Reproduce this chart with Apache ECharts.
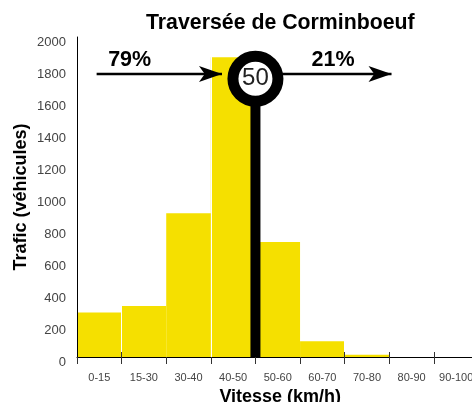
<!DOCTYPE html>
<html><head><meta charset="utf-8">
<style>html,body{margin:0;padding:0;background:#fff}#c{width:472px;height:402px}</style>
<script src="https://cdn.jsdelivr.net/npm/echarts@6/dist/echarts.min.js"></script>
</head><body><div id="c"></div>
<script>
const categories = ['0-15','15-30','30-40','40-50','50-60','60-70','70-80','80-90','90-100'];
const traffic = [310,350,930,1905,750,130,45,0,0];
const yTicks = {min:0,max:2000,interval:200};
const limit = {position:4,label:'50',height:1770};
const shares = [{text:'79%',x:1.18,y:1890},{text:'21%',x:5.74,y:1890}];
const arrowShafts = [[[0.44,1800],[3.25,1800]],[[4.6,1800],[7.05,1800]]];
const arrowHeads = [[3.25,1800],[7.05,1800]];
const axisFloor = 31.25, axisTop = 2031.25;
const aboveTicks = [1,6,7,8];
const gaps = [1,3,6];
const font = '"Liberation Sans", Helvetica, Arial, sans-serif';
const labelColor = '#444';

const chart = echarts.init(document.getElementById('c'));
const shaftSeries = arrowShafts.map(s => ({
  type:'line', xAxisIndex:3, yAxisIndex:0, data:s, symbol:'none', z:6, clip:false,
  lineStyle:{color:'#000',width:2.5}, silent:true
}));
chart.setOption({
  animation:false,
  backgroundColor:'#fff',
  title:{text:'Traversée de Corminboeuf',left:141,top:8,
    textStyle:{fontFamily:font,fontWeight:'bold',fontSize:21.3,color:'#000'}},
  grid:[
    {left:77,width:401.5,top:37,height:320,outerBoundsMode:'none'},
    {left:77,width:401.5,top:42,height:320,outerBoundsMode:'none'}
  ],
  xAxis:[
    {type:'category',gridIndex:0,data:categories,z:5,position:'bottom',
      name:'Vitesse (km/h)',nameLocation:'middle',nameGap:31,
      nameTextStyle:{fontFamily:font,fontWeight:'bold',fontSize:18,color:'#000',padding:[0,0,0,5]},
      axisLine:{lineStyle:{color:'#000',width:1}},
      axisTick:{show:true,length:7,lineStyle:{color:'#333'}},
      axisLabel:{interval:0,margin:15,fontFamily:font,fontSize:11,color:labelColor,hideOverlap:false},
      splitLine:{show:false}},
    {type:'category',gridIndex:0,data:categories,z:4,position:'bottom',
      axisLine:{show:false},
      axisLabel:{show:false},
      axisTick:{show:true,inside:true,length:5,lineStyle:{color:'#333'},
        interval:i=>aboveTicks.includes(i)},
      splitLine:{show:true,lineStyle:{color:'#fff',width:1},interval:i=>gaps.includes(i)}},
    {type:'category',gridIndex:1,data:categories,show:false},
    {type:'value',gridIndex:0,min:0,max:9,show:false}
  ],
  yAxis:[
    {type:'value',gridIndex:0,min:axisFloor,max:axisTop,z:5,
      name:'Trafic (véhicules)',nameLocation:'middle',nameGap:47,
      nameTextStyle:{fontFamily:font,fontWeight:'bold',fontSize:18,color:'#000'},
      axisLine:{show:true,lineStyle:{color:'#000',width:1}},
      axisTick:{show:false},axisLabel:{show:false},splitLine:{show:false}},
    {type:'value',gridIndex:1,min:yTicks.min,max:yTicks.max,interval:yTicks.interval,
      axisLine:{show:false},axisTick:{show:false},splitLine:{show:false},
      axisLabel:{margin:11,fontFamily:font,fontSize:13,color:labelColor,formatter:v=>String(v)}}
  ],
  series:[
    {type:'bar',xAxisIndex:0,yAxisIndex:0,data:traffic,barWidth:'100%',barGap:0,
      itemStyle:{color:'#F5E000'},z:2,silent:true},
    {type:'line',xAxisIndex:3,yAxisIndex:0,data:[[limit.position,axisFloor],[limit.position,limit.height]],
      symbol:'none',lineStyle:{color:'#000',width:10,cap:'butt'},z:6,silent:true},
    ...shaftSeries,
    {type:'scatter',xAxisIndex:3,yAxisIndex:0,data:arrowHeads,symbol:'arrow',
      symbolSize:[12,23],symbolRotate:-90,itemStyle:{color:'#000',opacity:1},z:7,silent:true},
    {type:'scatter',xAxisIndex:3,yAxisIndex:0,data:[[limit.position,limit.height]],symbol:'circle',symbolSize:45,
      itemStyle:{color:'#fff',borderColor:'#000',borderWidth:11,opacity:1},z:8,silent:true,clip:false,
      label:{show:true,position:'inside',formatter:limit.label,fontFamily:font,fontSize:24,color:'#222'}},
    {type:'scatter',xAxisIndex:3,yAxisIndex:0,
      data:shares.map(s=>({value:[s.x,s.y],name:s.text})),symbolSize:1,
      itemStyle:{color:'rgba(0,0,0,0)',opacity:1},z:8,silent:true,
      label:{show:true,position:'inside',formatter:p=>p.name,fontFamily:font,fontWeight:'bold',fontSize:21.5,color:'#000',opacity:1}}
  ]
});
</script></body></html>
